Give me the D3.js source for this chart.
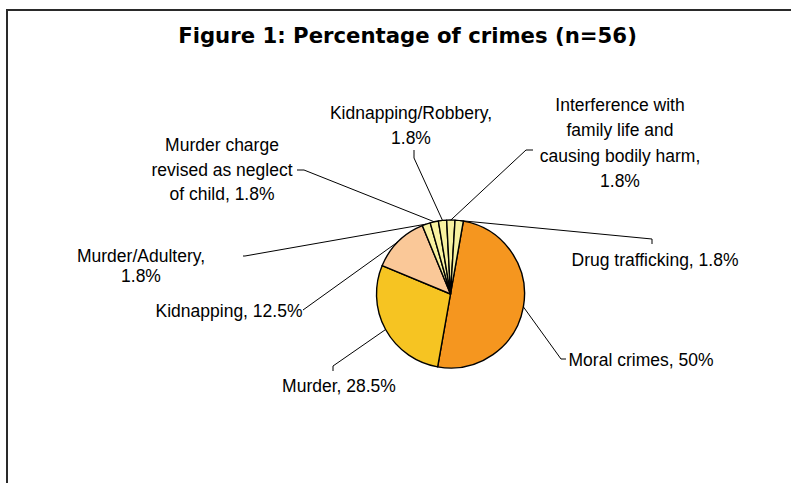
<!DOCTYPE html>
<html>
<head>
<meta charset="utf-8">
<script src="https://cdn.jsdelivr.net/npm/d3@7"></script>
<style>
  html, body { margin: 0; padding: 0; background: #fff; }
  svg { display: block; }
</style>
</head>
<body>
<svg id="chart" width="791" height="483"></svg>
<script>
// Crime categories and their share of cases (percent, n=56)
const categories = [
  "Moral crimes",
  "Murder",
  "Kidnapping",
  "Murder/Adultery",
  "Murder charge revised as neglect of child",
  "Kidnapping/Robbery",
  "Interference with family life and causing bodily harm",
  "Drug trafficking"
];
const percentages = [50, 28.5, 12.5, 1.8, 1.8, 1.8, 1.8, 1.8];
const sliceColors = ["#F5961F", "#F6C422", "#FAC898", "#F8F1A0", "#F8F1A0", "#F8F1A0", "#F8F1A0", "#F8F1A0"];

// Label text lines (how each label wraps)
const labelLines = [
  ["Moral crimes, 50%"],
  ["Murder, 28.5%"],
  ["Kidnapping, 12.5%"],
  ["Murder/Adultery,", "1.8%"],
  ["Murder charge", "revised as neglect", "of child, 1.8%"],
  ["Kidnapping/Robbery,", "1.8%"],
  ["Interference with", "family life and", "causing bodily harm,", "1.8%"],
  ["Drug trafficking, 1.8%"]
];

// Label placement: text centre x, first baseline y, line step, leader elbow and end
const labelLayout = [
  { x: 641, y: 366, step: 25, elbow: [561, 359], end: [566, 359] },
  { x: 339, y: 392, step: 25, elbow: [333, 366], end: [333, 371] },
  { x: 229, y: 317, step: 25, elbow: [303, 310], end: [303, 310] },
  { x: 141, y: 262, step: 19.5, elbow: [245, 256], end: [243, 256] },
  { x: 222, y: 151, step: 24.5, elbow: [304, 170], end: [297, 170] },
  { x: 411, y: 119, step: 25, elbow: [414, 158], end: [414, 150] },
  { x: 620, y: 111, step: 25.3, elbow: [526, 150], end: [533, 150] },
  { x: 655, y: 266, step: 25, elbow: [652, 239], end: [652, 244] }
];

const svg = d3.select("#chart");

// Frame of the chart area
svg.append("rect")
  .attr("x", 7).attr("y", 10)
  .attr("width", 800).attr("height", 490)
  .attr("fill", "#fff")
  .attr("stroke", "#2a2a2a")
  .attr("stroke-width", 2);

// Title, sized to its target width
const title = svg.append("text")
  .attr("x", 407.5).attr("y", 43)
  .attr("text-anchor", "middle")
  .attr("font-family", "'DejaVu Sans', Verdana, sans-serif")
  .attr("font-weight", "bold")
  .attr("font-size", 17)
  .attr("fill", "#000")
  .text("Figure 1: Percentage of crimes (n=56)");
const tw = title.node().getComputedTextLength();
title.attr("font-size", 17 * 459 / tw);

// Pie
const cx = 450.5, cy = 294, radius = 74;
const startAngle = 10 * Math.PI / 180;

const data = categories.map((c, i) => ({ name: c, value: percentages[i], color: sliceColors[i], lines: labelLines[i], layout: labelLayout[i] }));

const pie = d3.pie()
  .value(d => d.value)
  .sort(null)
  .startAngle(startAngle)
  .endAngle(startAngle + 2 * Math.PI);

const arcs = pie(data);
const arc = d3.arc().innerRadius(0).outerRadius(radius);

const g = svg.append("g").attr("transform", `translate(${cx},${cy})`);

g.selectAll("path.slice")
  .data(arcs)
  .join("path")
  .attr("class", "slice")
  .attr("d", arc)
  .attr("fill", d => d.data.color)
  .attr("stroke", "#000")
  .attr("stroke-width", 1.4)
  .attr("stroke-linejoin", "round");

// Leader lines from the slice edge to each label
svg.selectAll("polyline.leader")
  .data(arcs)
  .join("polyline")
  .attr("class", "leader")
  .attr("fill", "none")
  .attr("stroke", "#000")
  .attr("stroke-width", 1)
  .attr("points", d => {
    const mid = (d.startAngle + d.endAngle) / 2;
    const sx = cx + radius * Math.sin(mid);
    const sy = cy - radius * Math.cos(mid);
    const L = d.data.layout;
    return [[sx, sy], L.elbow, L.end].map(p => p.join(",")).join(" ");
  });

// Labels
const labels = svg.selectAll("text.label")
  .data(arcs)
  .join("text")
  .attr("class", "label")
  .attr("text-anchor", "middle")
  .attr("font-family", "'Liberation Sans', Arial, sans-serif")
  .attr("font-size", 17.5)
  .attr("fill", "#000");

labels.each(function(d) {
  const L = d.data.layout;
  d3.select(this).selectAll("tspan")
    .data(d.data.lines)
    .join("tspan")
    .attr("x", L.x)
    .attr("y", (t, i) => L.y + i * L.step)
    .text(t => t);
});
</script>
</body>
</html>
